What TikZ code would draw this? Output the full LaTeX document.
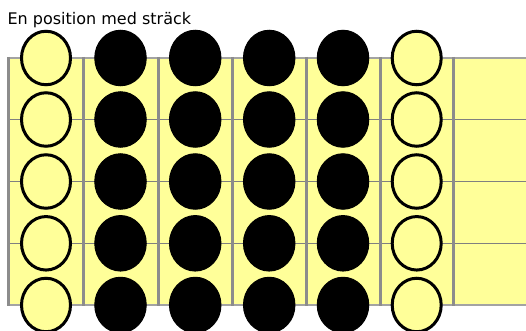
\documentclass[tikz,border=0pt]{standalone}
\usepackage{fontspec}
\setmainfont{DejaVu Sans}
\usetikzlibrary{shapes.geometric}
\definecolor{fy}{HTML}{FFFF99}
\definecolor{fretgray}{HTML}{8C8C8C}
\definecolor{strgray}{HTML}{808080}
\tikzset{
  fretline/.style={draw=fretgray, line width=3pt},
  stringline/.style={draw=strgray, line width=1.4pt},
  edgeline/.style={draw=fretgray!80, line width=1.8pt},
  opendot/.style={ellipse, draw=black, line width=3pt, fill=fy, minimum width=49pt, minimum height=53.5pt, inner sep=0pt},
  fingerdot/.style={ellipse, draw=black, line width=1pt, fill=black, minimum width=51.5pt, minimum height=55.5pt, inner sep=0pt},
  titletext/.style={anchor=base west, inner sep=0pt, font=\fontsize{16pt}{18pt}\selectfont}
}
\begin{document}
\begin{tikzpicture}[x=1pt,y=-1pt]
\useasboundingbox (0,0) rectangle (526,331);
% board
\fill[fy] (8.5,58) rectangle (526,305);
% strings
\foreach \y in {119.5,181.5,243.3} {
  \draw[stringline] (8.5,\y) -- (526,\y);
}
\draw[edgeline] (8.5,58) -- (526,58);
\draw[edgeline] (8.5,305) -- (526,305);
% frets
\foreach \x in {8.5,83,158,232.5,306,380,453.3} {
  \draw[fretline] (\x,57) -- (\x,306);
}
% title
\node[titletext] (title) at (7.4,25) {En position med sträck};
% dots
\foreach \r/\y in {1/58,2/119.5,3/181.5,4/243.3,5/305} {
  \node[opendot] (a\r) at (46,\y) {};
  \node[fingerdot] (b\r) at (120.5,\y) {};
  \node[fingerdot] (c\r) at (195.2,\y) {};
  \node[fingerdot] (d\r) at (269.2,\y) {};
  \node[fingerdot] (e\r) at (343,\y) {};
  \node[opendot] (f\r) at (416.7,\y) {};
}
\end{tikzpicture}
\end{document}
